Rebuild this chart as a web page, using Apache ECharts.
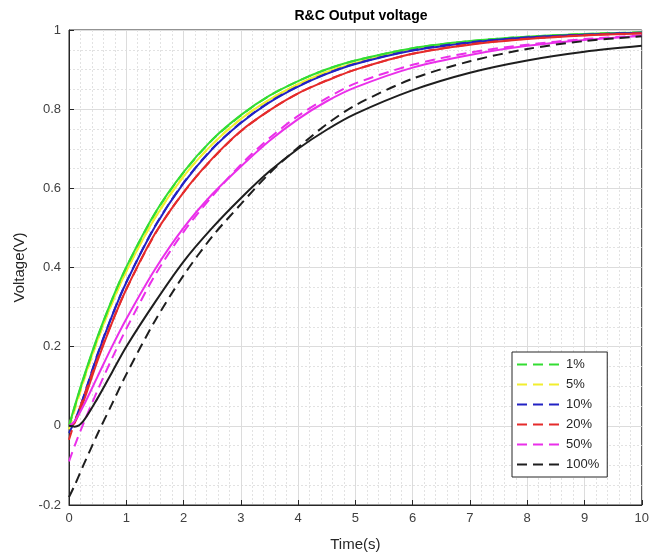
<!DOCTYPE html>
<html>
<head>
<meta charset="utf-8">
<title>R&C Output voltage</title>
<script src="https://cdn.jsdelivr.net/npm/echarts@6/dist/echarts.min.js"></script>
<style>
  html, body { margin: 0; padding: 0; background: #fff; }
  #chart { width: 652px; height: 557px; }
</style>
</head>
<body>
<div id="chart"></div>
<script type="text/javascript">
// sample times (s)
var times = [0, 0.1, 0.25, 0.5, 0.75, 1, 1.5, 2, 2.5, 3, 3.5, 4, 4.5, 5, 6, 7, 8, 9, 10];

// legend names
var levels = ['1%', '5%', '10%', '20%', '50%', '100%'];

// solid curves
var solid1   = [0, 0.050, 0.120, 0.226, 0.319, 0.401, 0.537, 0.641, 0.723, 0.785, 0.834, 0.871, 0.901, 0.923, 0.954, 0.972, 0.983, 0.990, 0.994];
var solid5   = [0, 0.046, 0.114, 0.218, 0.310, 0.390, 0.525, 0.630, 0.711, 0.775, 0.824, 0.863, 0.894, 0.917, 0.950, 0.970, 0.982, 0.989, 0.993];
var solid10  = [0, 0.010, 0.070, 0.180, 0.277, 0.362, 0.503, 0.613, 0.699, 0.765, 0.817, 0.857, 0.889, 0.914, 0.948, 0.968, 0.981, 0.988, 0.993];
var solid20  = [0, 0.008, 0.060, 0.165, 0.260, 0.345, 0.485, 0.590, 0.675, 0.745, 0.797, 0.840, 0.872, 0.900, 0.940, 0.963, 0.977, 0.986, 0.991];
var solid50  = [0, 0.012, 0.050, 0.125, 0.200, 0.270, 0.395, 0.500, 0.585, 0.655, 0.720, 0.775, 0.820, 0.855, 0.905, 0.937, 0.960, 0.975, 0.985];
var solid100 = [0, -0.002, 0.012, 0.070, 0.135, 0.200, 0.312, 0.415, 0.500, 0.575, 0.643, 0.700, 0.748, 0.788, 0.848, 0.892, 0.923, 0.945, 0.960];

// dashed curves
var dash1   = [-0.002, 0.048, 0.118, 0.224, 0.318, 0.400, 0.536, 0.640, 0.722, 0.784, 0.834, 0.871, 0.901, 0.923, 0.954, 0.972, 0.983, 0.990, 0.994];
var dash5   = [-0.009, 0.040, 0.110, 0.216, 0.309, 0.390, 0.525, 0.630, 0.711, 0.775, 0.824, 0.863, 0.894, 0.917, 0.950, 0.970, 0.982, 0.989, 0.993];
var dash10  = [-0.018, 0.012, 0.072, 0.182, 0.278, 0.363, 0.504, 0.614, 0.700, 0.766, 0.818, 0.858, 0.890, 0.915, 0.949, 0.969, 0.981, 0.988, 0.993];
var dash20  = [-0.035, 0.010, 0.070, 0.170, 0.262, 0.345, 0.484, 0.590, 0.674, 0.744, 0.797, 0.840, 0.873, 0.900, 0.940, 0.964, 0.978, 0.987, 0.992];
var dash50  = [-0.090, -0.050, 0.005, 0.090, 0.170, 0.245, 0.380, 0.490, 0.580, 0.660, 0.727, 0.783, 0.828, 0.865, 0.912, 0.943, 0.963, 0.977, 0.986];
var dash100 = [-0.180, -0.150, -0.100, -0.020, 0.055, 0.130, 0.265, 0.380, 0.478, 0.560, 0.638, 0.703, 0.762, 0.810, 0.877, 0.921, 0.952, 0.972, 0.984];

var colors = {
    '1%': '#33dd33',
    '5%': '#f2ee2e',
    '10%': '#2222c4',
    '20%': '#e52b2b',
    '50%': '#ea2fea',
    '100%': '#1e1e1e'
};

function pairs(vals) {
    var out = [];
    for (var i = 0; i < times.length; i++) {
        out.push([times[i], vals[i]]);
    }
    return out;
}

function mkLine(name, vals, dashed) {
    return {
        name: dashed ? name : name + ' ',
        type: 'line',
        data: pairs(vals),
        symbol: 'none',
        showSymbol: false,
        smooth: 0.3,
        silent: true,
        itemStyle: { color: colors[name] },
        lineStyle: {
            color: colors[name],
            width: 2,
            type: dashed ? [10, 6] : 'solid'
        }
    };
}

// drawing order: yellow under green, then the rest
var series = [
    mkLine('5%', dash5, true),
    mkLine('5%', solid5, false),
    mkLine('1%', dash1, true),
    mkLine('1%', solid1, false),
    mkLine('10%', dash10, true),
    mkLine('10%', solid10, false),
    mkLine('20%', dash20, true),
    mkLine('20%', solid20, false),
    mkLine('50%', solid50, false),
    mkLine('50%', dash50, true),
    mkLine('100%', solid100, false),
    mkLine('100%', dash100, true)
];

var font = 'Liberation Sans, Arial, Helvetica, sans-serif';
var axisCol = '#262626';

var chart = echarts.init(document.getElementById('chart'));

var option = {
    animation: false,
    backgroundColor: '#ffffff',
    title: {
        text: 'R&C Output voltage',
        left: 356,
        top: 4,
        textAlign: 'center',
        textStyle: { fontFamily: font, fontSize: 14, fontWeight: 'bold', color: '#000' }
    },
    legend: {
        data: levels,
        orient: 'vertical',
        left: 512,
        top: 352,
        padding: [6, 8, 6, 4],
        itemWidth: 46,
        itemHeight: 12,
        itemGap: 7,
        backgroundColor: '#ffffff',
        borderColor: axisCol,
        borderWidth: 1,
        borderRadius: 0,
        selectedMode: false,
        itemStyle: { opacity: 0 },
        textStyle: { fontFamily: font, fontSize: 13, color: '#262626', padding: [0, 0, 0, -2] }
    },
    grid: {
        left: 69,
        right: 9,
        top: 30,
        bottom: 51,
        show: true,
        borderColor: axisCol,
        borderWidth: 1,
        backgroundColor: '#fff'
    },
    xAxis: {
        type: 'value',
        min: 0,
        max: 10,
        interval: 1,
        name: 'Time(s)',
        nameLocation: 'middle',
        nameGap: 32,
        nameTextStyle: { fontFamily: font, fontSize: 15, color: '#262626' },
        axisLine: { show: true, onZero: false, lineStyle: { color: axisCol, width: 1 } },
        axisTick: { show: true, inside: true, length: 5, lineStyle: { color: axisCol } },
        axisLabel: { fontFamily: font, fontSize: 13, color: '#404040', margin: 7 },
        splitLine: { show: true, lineStyle: { color: '#dcdcdc', width: 1 } },
        minorTick: { show: false, splitNumber: 5 },
        minorSplitLine: { show: true, lineStyle: { color: '#e2e2e2', width: 1, type: [2, 2] } }
    },
    yAxis: {
        type: 'value',
        min: -0.2,
        max: 1,
        interval: 0.2,
        name: 'Voltage(V)',
        nameLocation: 'middle',
        nameGap: 40,
        nameTextStyle: { fontFamily: font, fontSize: 15, color: '#262626' },
        axisLine: { show: true, onZero: false, lineStyle: { color: axisCol, width: 1 } },
        axisTick: { show: true, inside: true, length: 5, lineStyle: { color: axisCol } },
        axisLabel: {
            fontFamily: font, fontSize: 13, color: '#404040', margin: 8,
            formatter: function (v) { return String(Math.round(v * 10) / 10); }
        },
        splitLine: { show: true, lineStyle: { color: '#dcdcdc', width: 1 } },
        minorTick: { show: false, splitNumber: 4 },
        minorSplitLine: { show: true, lineStyle: { color: '#e2e2e2', width: 1, type: [2, 2] } }
    },
    series: series
};

chart.setOption(option);
</script>
</body>
</html>
